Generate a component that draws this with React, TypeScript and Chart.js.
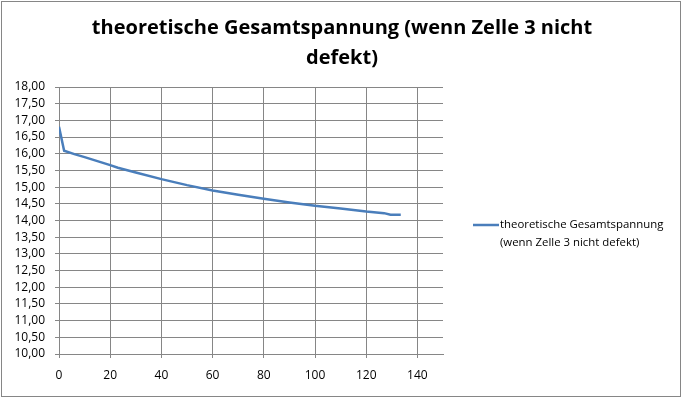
import React, { useEffect, useRef } from 'react';
import { Chart, registerables } from 'chart.js';

Chart.register(...registerables);

const TITLE_LINES = ['theoretische Gesamtspannung (wenn Zelle 3 nicht', 'defekt)'];
const SERIES_LABEL_LINES = ['theoretische Gesamtspannung', '(wenn Zelle 3 nicht defekt)'];

const X_VALUES = [0, 2, 6, 10, 15, 20, 23, 30, 40, 50, 60, 70, 80, 90, 100, 110, 120, 127, 129.5, 133.5];
const Y_VALUES = [16.81, 16.09, 15.99, 15.9, 15.78, 15.66, 15.58, 15.44, 15.24, 15.06, 14.9, 14.77, 14.65, 14.54, 14.44, 14.36, 14.27, 14.22, 14.17, 14.17];

const Y_MIN = 10;
const Y_MAX = 18;
const Y_STEP = 0.5;
const X_MIN = 0;
const X_MAX = 150;
const X_STEP = 20;

const LINE_COLOR = '#4a7ebb';
const GRID_COLOR = '#868686';
const FONT = '"Open Sans", "DejaVu Sans", sans-serif';

const overlay = {
  id: 'overlay',
  afterDraw(chart: any) {
    const ctx = chart.ctx as CanvasRenderingContext2D;
    ctx.save();
    ctx.strokeStyle = GRID_COLOR;
    ctx.lineWidth = 1;
    ctx.strokeRect(1.5, 1.5, chart.width - 4, chart.height - 4);

    ctx.fillStyle = '#000';
    ctx.font = `bold 20px ${FONT}`;
    ctx.textAlign = 'center';
    ctx.textBaseline = 'middle';
    TITLE_LINES.forEach((l, i) => ctx.fillText(l, 342, 28 + i * 30));

    const ds = chart.data.datasets[0];
    ctx.strokeStyle = ds.borderColor;
    ctx.lineWidth = 2.5;
    ctx.beginPath();
    ctx.moveTo(473, 225);
    ctx.lineTo(499, 225);
    ctx.stroke();
    ctx.font = `11.4px ${FONT}`;
    ctx.textAlign = 'left';
    ctx.fillStyle = '#000';
    SERIES_LABEL_LINES.forEach((l, i) => ctx.fillText(l, 500, 225 + i * 18));
    ctx.restore();
  },
};

export default function App() {
  const ref = useRef<HTMLCanvasElement>(null);
  useEffect(() => {
    document.body.style.margin = '0';
    const data = X_VALUES.map((x, i) => ({ x, y: Y_VALUES[i] }));
    const chart = new Chart(ref.current!, {
      type: 'line',
      data: {
        datasets: [
          {
            label: SERIES_LABEL_LINES.join(' '),
            data,
            borderColor: LINE_COLOR,
            backgroundColor: LINE_COLOR,
            borderWidth: 2.5,
            pointRadius: 0,
            tension: 0,
            fill: false,
          },
        ],
      },
      options: {
        animation: false,
        responsive: false,
        layout: { padding: { top: 87, right: 240, bottom: 0, left: 0 } },
        plugins: { legend: { display: false }, title: { display: false }, tooltip: { enabled: false } },
        scales: {
          x: {
            type: 'linear',
            min: X_MIN,
            max: X_MAX,
            afterFit: (axis: any) => { axis.height = 45; },
            ticks: { stepSize: X_STEP, includeBounds: false, autoSkip: false, maxRotation: 0, color: '#000', padding: 10, font: { family: FONT, size: 12 } },
            grid: { color: GRID_COLOR, tickLength: 4, lineWidth: 1 },
            border: { color: GRID_COLOR },
          },
          y: {
            min: Y_MIN,
            max: Y_MAX,
            afterFit: (axis: any) => { axis.width = 59; },
            ticks: {
              stepSize: Y_STEP,
              autoSkip: false,
              color: '#000',
              padding: 10,
              font: { family: FONT, size: 12 },
              callback: (v: any) => Number(v).toFixed(2).replace('.', ','),
            },
            grid: { color: GRID_COLOR, tickLength: 4, lineWidth: 1 },
            border: { color: GRID_COLOR },
          },
        },
      },
      plugins: [overlay],
    });
    return () => chart.destroy();
  }, []);
  return (
    <div style={{ position: 'absolute', left: 0, top: 0, width: 683, height: 399 }}>
      <canvas ref={ref} width={683} height={399} style={{ display: 'block' }} />
    </div>
  );
}
